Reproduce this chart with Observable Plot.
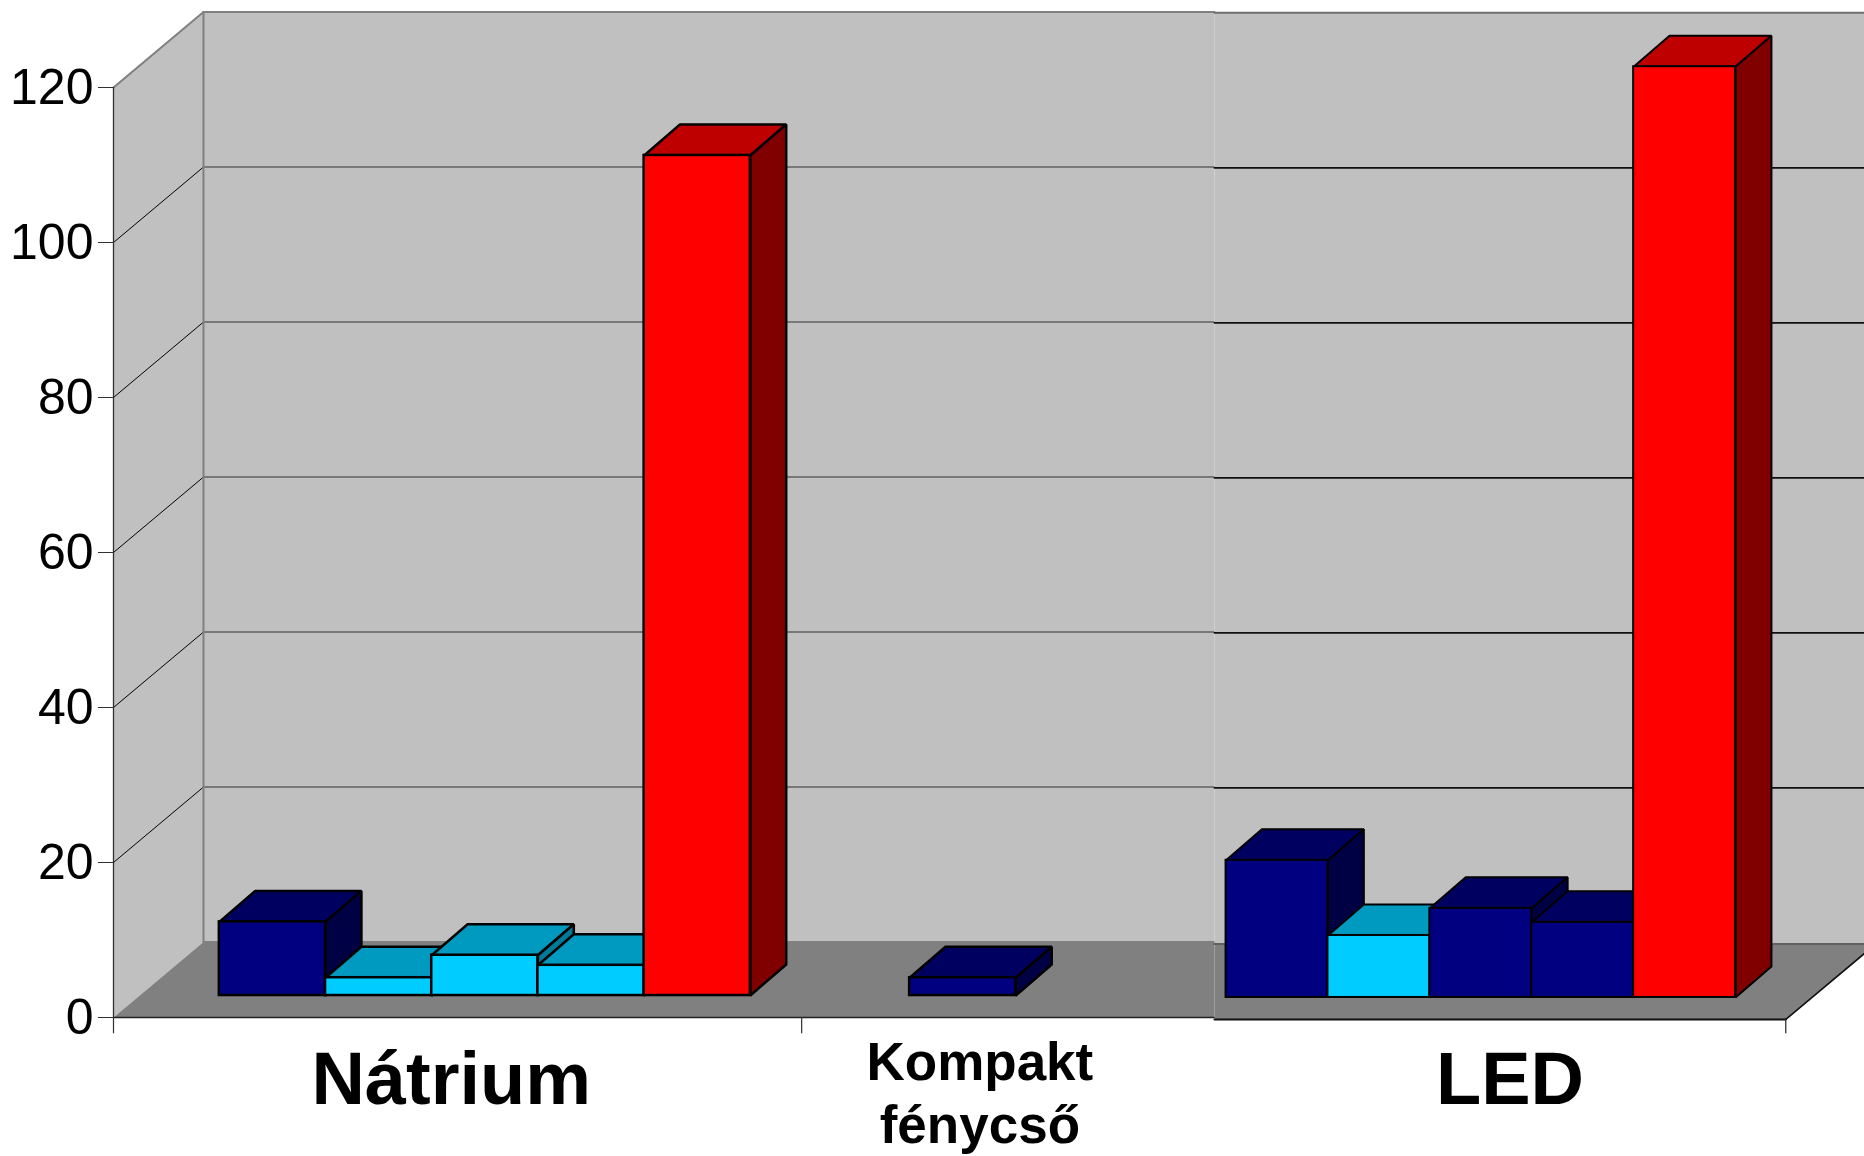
<!DOCTYPE html>
<html>
<head>
<meta charset="utf-8">
<script src="https://cdn.jsdelivr.net/npm/d3@7"></script>
<script src="https://cdn.jsdelivr.net/npm/@observablehq/plot@0.6"></script>
<style>
  html, body { margin: 0; padding: 0; background: #fff; }
  svg { display: block; }
</style>
</head>
<body>
<script>
// Bar heights per lamp type
const natriumValues = [9.5, 2.3, 5.2, 3.9, 108.4];
const natriumKinds = ["navy", "cyan", "cyan", "cyan", "red"];
const kompaktValues = [2.3];
const kompaktKinds = ["navy"];
const ledValues = [17.7, 8.0, 11.5, 9.7, 120.1];
const ledKinds = ["navy", "cyan", "navy", "navy", "red"];
const yTicks = [0, 20, 40, 60, 80, 100, 120];

// Face colours for each bar kind
const shades = {
  navy: {front: "#000080", top: "#000060", side: "#000045"},
  cyan: {front: "#00CCFF", top: "#0099BF", side: "#007A99"},
  red:  {front: "#FF0000", top: "#BF0000", side: "#800000"}
};

// 3D box layout, in axis units: x in bar widths, y in value units
const depthX = 0.8475, depthY = 9.74;
const barFront = 0.291, barBack = 0.702, barSkew = 0.97;
const gap = 0.75, groupWidth = 6.5, groupTick = 6.48, xMax = 16.488, wallTop = 120, seam = 10.367;
const leftPanel = {x0: 0, unit: 1, shift: 0, wall: 0};
const ledPanel = {x0: 9.51, unit: 0.9595, shift: -0.25, wall: 0.15};

const at = (p, u, v, d) => ({
  x: p.x0 + u * p.unit + d * depthX,
  y: v + p.shift + d * depthY
});

// Point on a bar: the receding edges run at a slightly steeper angle than the floor
const onBar = (p, u, v, d) => ({
  x: p.x0 + u * p.unit + (barFront + (d - barFront) * barSkew) * depthX,
  y: v + p.shift + d * depthY
});

const face = (points, fill, stroke, strokeWidth) =>
  Plot.line(points, {
    x: "x", y: "y", curve: "linear-closed",
    fill, stroke, strokeWidth, strokeLinejoin: "miter"
  });

const edge = (a, b, stroke, strokeWidth) =>
  Plot.line([a, b], {x: "x", y: "y", stroke, strokeWidth});

// One box: front rectangle plus top and side parallelograms
function box(p, start, value, kind, sw) {
  const c = shades[kind], e = start + 1;
  return [
    face([onBar(p, start, value, barFront), onBar(p, e, value, barFront), onBar(p, e, value, barBack), onBar(p, start, value, barBack)], c.top, "#000", sw),
    face([onBar(p, e, 0, barFront), onBar(p, e, value, barFront), onBar(p, e, value, barBack), onBar(p, e, 0, barBack)], c.side, "#000", sw),
    Plot.rect([{value}], {
      x1: onBar(p, start, 0, barFront).x, x2: onBar(p, e, 0, barFront).x,
      y1: onBar(p, 0, 0, barFront).y, y2: d => onBar(p, 0, d.value, barFront).y,
      fill: c.front, stroke: "#000", strokeWidth: sw
    })
  ];
}

// Painted left to right: each bar hides the lower part of its neighbour's side
function group(p, origin, values, kinds, sw) {
  return values.flatMap((value, i) => box(p, origin + gap + i, value, kinds[i], sw));
}

// Left chart walls, floor and grid, running up to the seam
const L = leftPanel;
const backL = v => ({x: seam, y: at(L, 0, v, 1).y});
const leftFrame = [
  face([at(L, 0, 0, 0), at(L, 0, wallTop, 0), at(L, 0, wallTop, 1), at(L, 0, 0, 1)], "#C0C0C0", "none", 0),
  face([at(L, 0, 0, 1), at(L, 0, wallTop, 1), backL(wallTop), backL(0)], "#C0C0C0", "none", 0),
  face([at(L, 0, 0, 0), {x: seam, y: 0}, backL(0), at(L, 0, 0, 1)], "#808080", "none", 0),
  ...yTicks.slice(1, -1).flatMap(v => [
    edge(at(L, 0, v, 0), at(L, 0, v, 1), "#000", 1),
    edge(at(L, 0, v, 1), backL(v), "#303030", 1.2)
  ]),
  edge(at(L, 0, wallTop, 1), backL(wallTop), "#808080", 2),
  edge(at(L, 0, wallTop, 0), at(L, 0, wallTop, 1), "#808080", 2),
  edge(at(L, 0, 0, 1), at(L, 0, wallTop, 1), "#808080", 2),
  edge(at(L, 0, 0, 1), backL(0), "#808080", 2),
  edge(at(L, 0, 0, 0), at(L, 0, wallTop, 0), "#303030", 1.3),
  edge(at(L, 0, 0, 0), {x: seam, y: 0}, "#202020", 1.3)
];

// LED chart sits over the left one from the seam rightwards
const R = ledPanel;
const rightEnd = R.x0 + groupWidth * R.unit;
const backR = (x, v) => ({x, y: at(R, 0, v + (v > 0 ? R.wall : 0), 1).y});
const rightBackX = rightEnd + depthX;
const rightFrame = [
  face([backR(seam, 0), backR(seam, wallTop), backR(rightBackX, wallTop), backR(rightBackX, 0)], "#C0C0C0", "none", 0),
  face([{x: seam, y: R.shift}, {x: rightEnd, y: R.shift}, backR(rightBackX, 0), backR(seam, 0)], "#808080", "none", 0),
  ...yTicks.slice(1, -1).map(v => edge(backR(seam, v), backR(rightBackX, v), "#101010", 1.8)),
  edge(backR(seam, wallTop), backR(rightBackX, wallTop), "#707070", 2),
  edge(backR(seam, 0), backR(rightBackX, 0), "#606060", 2),
  edge({x: seam, y: R.shift}, {x: rightEnd, y: R.shift}, "#101010", 2),
  edge({x: rightEnd, y: R.shift}, backR(rightBackX, 0), "#101010", 1.6)
];

const tickDrop = -2.1;
const chart = Plot.plot({
  width: 1864,
  height: 1156,
  marginLeft: 113,
  marginRight: 0,
  marginTop: 87,
  marginBottom: 139,
  style: {fontFamily: "Liberation Sans, Arial, sans-serif", background: "#fff", overflow: "hidden"},
  x: {domain: [0, xMax], axis: null},
  y: {domain: [0, 120], axis: null},
  marks: [
    ...leftFrame,
    ...group(L, 0, natriumValues, natriumKinds, 2.5),
    ...group(L, groupWidth, kompaktValues, kompaktKinds, 2.5),
    ...rightFrame,
    ...group(R, 0, ledValues, ledKinds, 2),
    Plot.axisY({
      ticks: yTicks, label: null, tickSize: 15, tickPadding: 5,
      fontSize: 50, stroke: "#303030", color: "#000", tickFormat: d => d
    }),
    Plot.ruleX([0, groupTick], {y1: 0, y2: tickDrop, stroke: "#303030", strokeWidth: 1.2}),
    Plot.ruleX([rightEnd], {y1: R.shift, y2: tickDrop, stroke: "#202020", strokeWidth: 1.2}),
    Plot.text(["Nátrium"], {x: 3.18, y: -8.1, text: d => d, fontSize: 74, fontWeight: "bold", fill: "#000"}),
    Plot.text(["LED"], {x: 13.15, y: -8.1, text: d => d, fontSize: 74, fontWeight: "bold", fill: "#000"}),
    Plot.text(["Kompakt\nfénycső"], {x: 8.158, y: -9.5, text: d => d, fontSize: 53, fontWeight: "bold", lineHeight: 1.2, fill: "#000"})
  ]
});
document.body.append(chart);
</script>
</body>
</html>
